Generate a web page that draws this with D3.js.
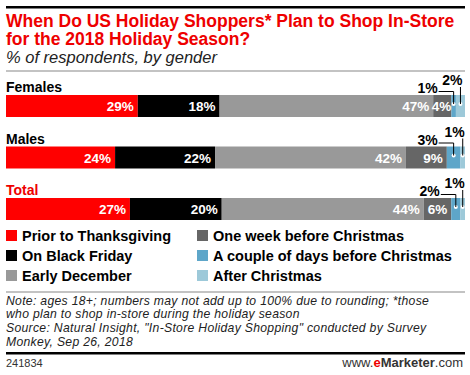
<!DOCTYPE html>
<html>
<head>
<meta charset="utf-8">
<script src="https://cdn.jsdelivr.net/npm/d3@7"></script>
<style>
  body { margin: 0; background: #fff; }
  svg { display: block; font-family: "Liberation Sans", Arial, sans-serif; }
</style>
</head>
<body>
<div id="chart"></div>
<script>
// the data
var groups = ["Females", "Males", "Total"];
var seriesNames = ["Prior to Thanksgiving", "On Black Friday", "Early December",
                   "One week before Christmas", "A couple of days before Christmas", "After Christmas"];
var females = [29, 18, 47, 4, 1, 2];
var males   = [24, 22, 42, 9, 3, 1];
var total   = [27, 20, 44, 6, 2, 1];
var colors = ["#ff0000", "#000000", "#999999", "#666666", "#5ea6c9", "#9dc9d9"];

var values = [females, males, total];

var width = 470, height = 375;

var svg = d3.select("#chart").append("svg")
    .attr("width", width)
    .attr("height", height);

// rules
svg.append("rect").attr("x", 6).attr("y", 6).attr("width", 459).attr("height", 2.5).attr("fill", "#000");
svg.append("rect").attr("x", 6).attr("y", 70.5).attr("width", 459).attr("height", 1).attr("fill", "#888");
svg.append("rect").attr("x", 6).attr("y", 291.5).attr("width", 459).attr("height", 1).attr("fill", "#888");
svg.append("rect").attr("x", 6).attr("y", 352).attr("width", 459).attr("height", 2.5).attr("fill", "#000");

// title
svg.append("text").attr("x", 6).attr("y", 27)
    .style("font-size", "17.5px").style("font-weight", "bold").style("fill", "#ee0000")
    .text("When Do US Holiday Shoppers* Plan to Shop In-Store");
svg.append("text").attr("x", 6).attr("y", 45)
    .style("font-size", "17.5px").style("font-weight", "bold").style("fill", "#ee0000")
    .text("for the 2018 Holiday Season?");
svg.append("text").attr("x", 6).attr("y", 63)
    .style("font-size", "16.5px").style("font-style", "italic").style("fill", "#222")
    .text("% of respondents, by gender");

// scales
var y = d3.scaleBand().domain(groups).range([95, 220]).paddingInner(0.573).paddingOuter(0);

groups.forEach(function(g, gi) {
  var vals = values[gi];
  var sum = d3.sum(vals);
  var x = d3.scaleLinear().domain([0, sum]).range([6, 465]);
  var starts = [0];
  vals.forEach(function(v, i) { starts.push(starts[i] + v); });

  var y0 = y(g), bh = y.bandwidth();

  // group label
  svg.append("text").attr("x", 6).attr("y", y0 - 3)
      .style("font-size", "14px").style("font-weight", "bold")
      .style("fill", g === "Total" ? "#ee0000" : "#000")
      .text(g);

  var row = svg.append("g");
  row.selectAll("rect").data(vals).enter().append("rect")
      .attr("x", function(d, i) { return x(starts[i]); })
      .attr("y", y0)
      .attr("width", function(d, i) { return x(starts[i] + d) - x(starts[i]); })
      .attr("height", bh)
      .attr("fill", function(d, i) { return colors[i]; });

  // labels inside the big segments
  row.selectAll("text.in").data(vals.slice(0, 4)).enter().append("text")
      .attr("class", "in")
      .attr("y", y0 + bh / 2 + 5)
      .attr("text-anchor", "end")
      .style("font-size", "13.5px").style("font-weight", "bold").style("fill", "#fff")
      .text(function(d) { return d + "%"; })
      .attr("x", function(d, i) {
        var segW = x(starts[i] + d) - x(starts[i]);
        var tw = this.getComputedTextLength();
        var off = Math.max(0, Math.min(4, (segW - tw) / 2));
        return x(starts[i] + d) - off;
      });

  // callouts for the two small segments
  [4, 5].forEach(function(i) {
    var cx = (x(starts[i]) + x(starts[i] + vals[i])) / 2;
    var cy = y0 + bh / 2 - 2;
    row.append("circle").attr("cx", cx).attr("cy", cy).attr("r", 2).attr("fill", "#fff");
    if (i === 4) {
      var ly = y0 - 3.5;
      row.append("path")
          .attr("d", "M" + (cx - 15) + "," + ly + "H" + cx + "V" + cy)
          .attr("fill", "none").attr("stroke", "#000").attr("stroke-width", 1);
      row.append("text").attr("x", cx - 16).attr("y", y0 - 2)
          .attr("text-anchor", "end")
          .style("font-size", "14px").style("font-weight", "bold")
          .text(vals[i] + "%");
    } else {
      row.append("path")
          .attr("d", "M" + cx + "," + (y0 - 8) + "V" + cy)
          .attr("fill", "none").attr("stroke", "#000").attr("stroke-width", 1);
      row.append("text").attr("x", cx + 2).attr("y", y0 - 10)
          .attr("text-anchor", "end")
          .style("font-size", "14px").style("font-weight", "bold")
          .text(vals[i] + "%");
    }
  });
});

// legend
var legend = svg.append("g");
var item = legend.selectAll("g").data(seriesNames).enter().append("g")
    .attr("transform", function(d, i) {
      return "translate(" + (i < 3 ? 6 : 197) + "," + (230 + (i % 3) * 20) + ")";
    });
item.append("rect").attr("width", 11).attr("height", 11)
    .attr("fill", function(d, i) { return colors[i]; });
item.append("text").attr("x", 16).attr("y", 10.5)
    .style("font-size", "14.5px").style("font-weight", "bold")
    .text(function(d) { return d; });

// note & source
var notes = ["Note: ages 18+; numbers may not add up to 100% due to rounding; *those",
             "who plan to shop in-store during the holiday season",
             "Source: Natural Insight, \"In-Store Holiday Shopping\" conducted by Survey",
             "Monkey, Sep 26, 2018"];
svg.selectAll("text.note").data(notes).enter().append("text")
    .attr("class", "note")
    .attr("x", 6)
    .attr("y", function(d, i) { return 304.5 + i * 13.7; })
    .style("font-size", "12.2px").style("font-style", "italic").style("fill", "#222")
    .style("letter-spacing", "0.3px")
    .text(function(d) { return d; });

svg.append("text").attr("x", 6).attr("y", 367)
    .style("font-size", "11px").style("fill", "#333")
    .text("241834");

var brand = svg.append("text").attr("x", 463).attr("y", 367)
    .attr("text-anchor", "end")
    .style("font-size", "13px").style("fill", "#333");
brand.append("tspan").text("www.");
brand.append("tspan").style("fill", "#ee0000").style("font-weight", "bold").text("e");
brand.append("tspan").style("font-weight", "bold").text("Marketer");
brand.append("tspan").text(".com");
</script>
</body>
</html>
